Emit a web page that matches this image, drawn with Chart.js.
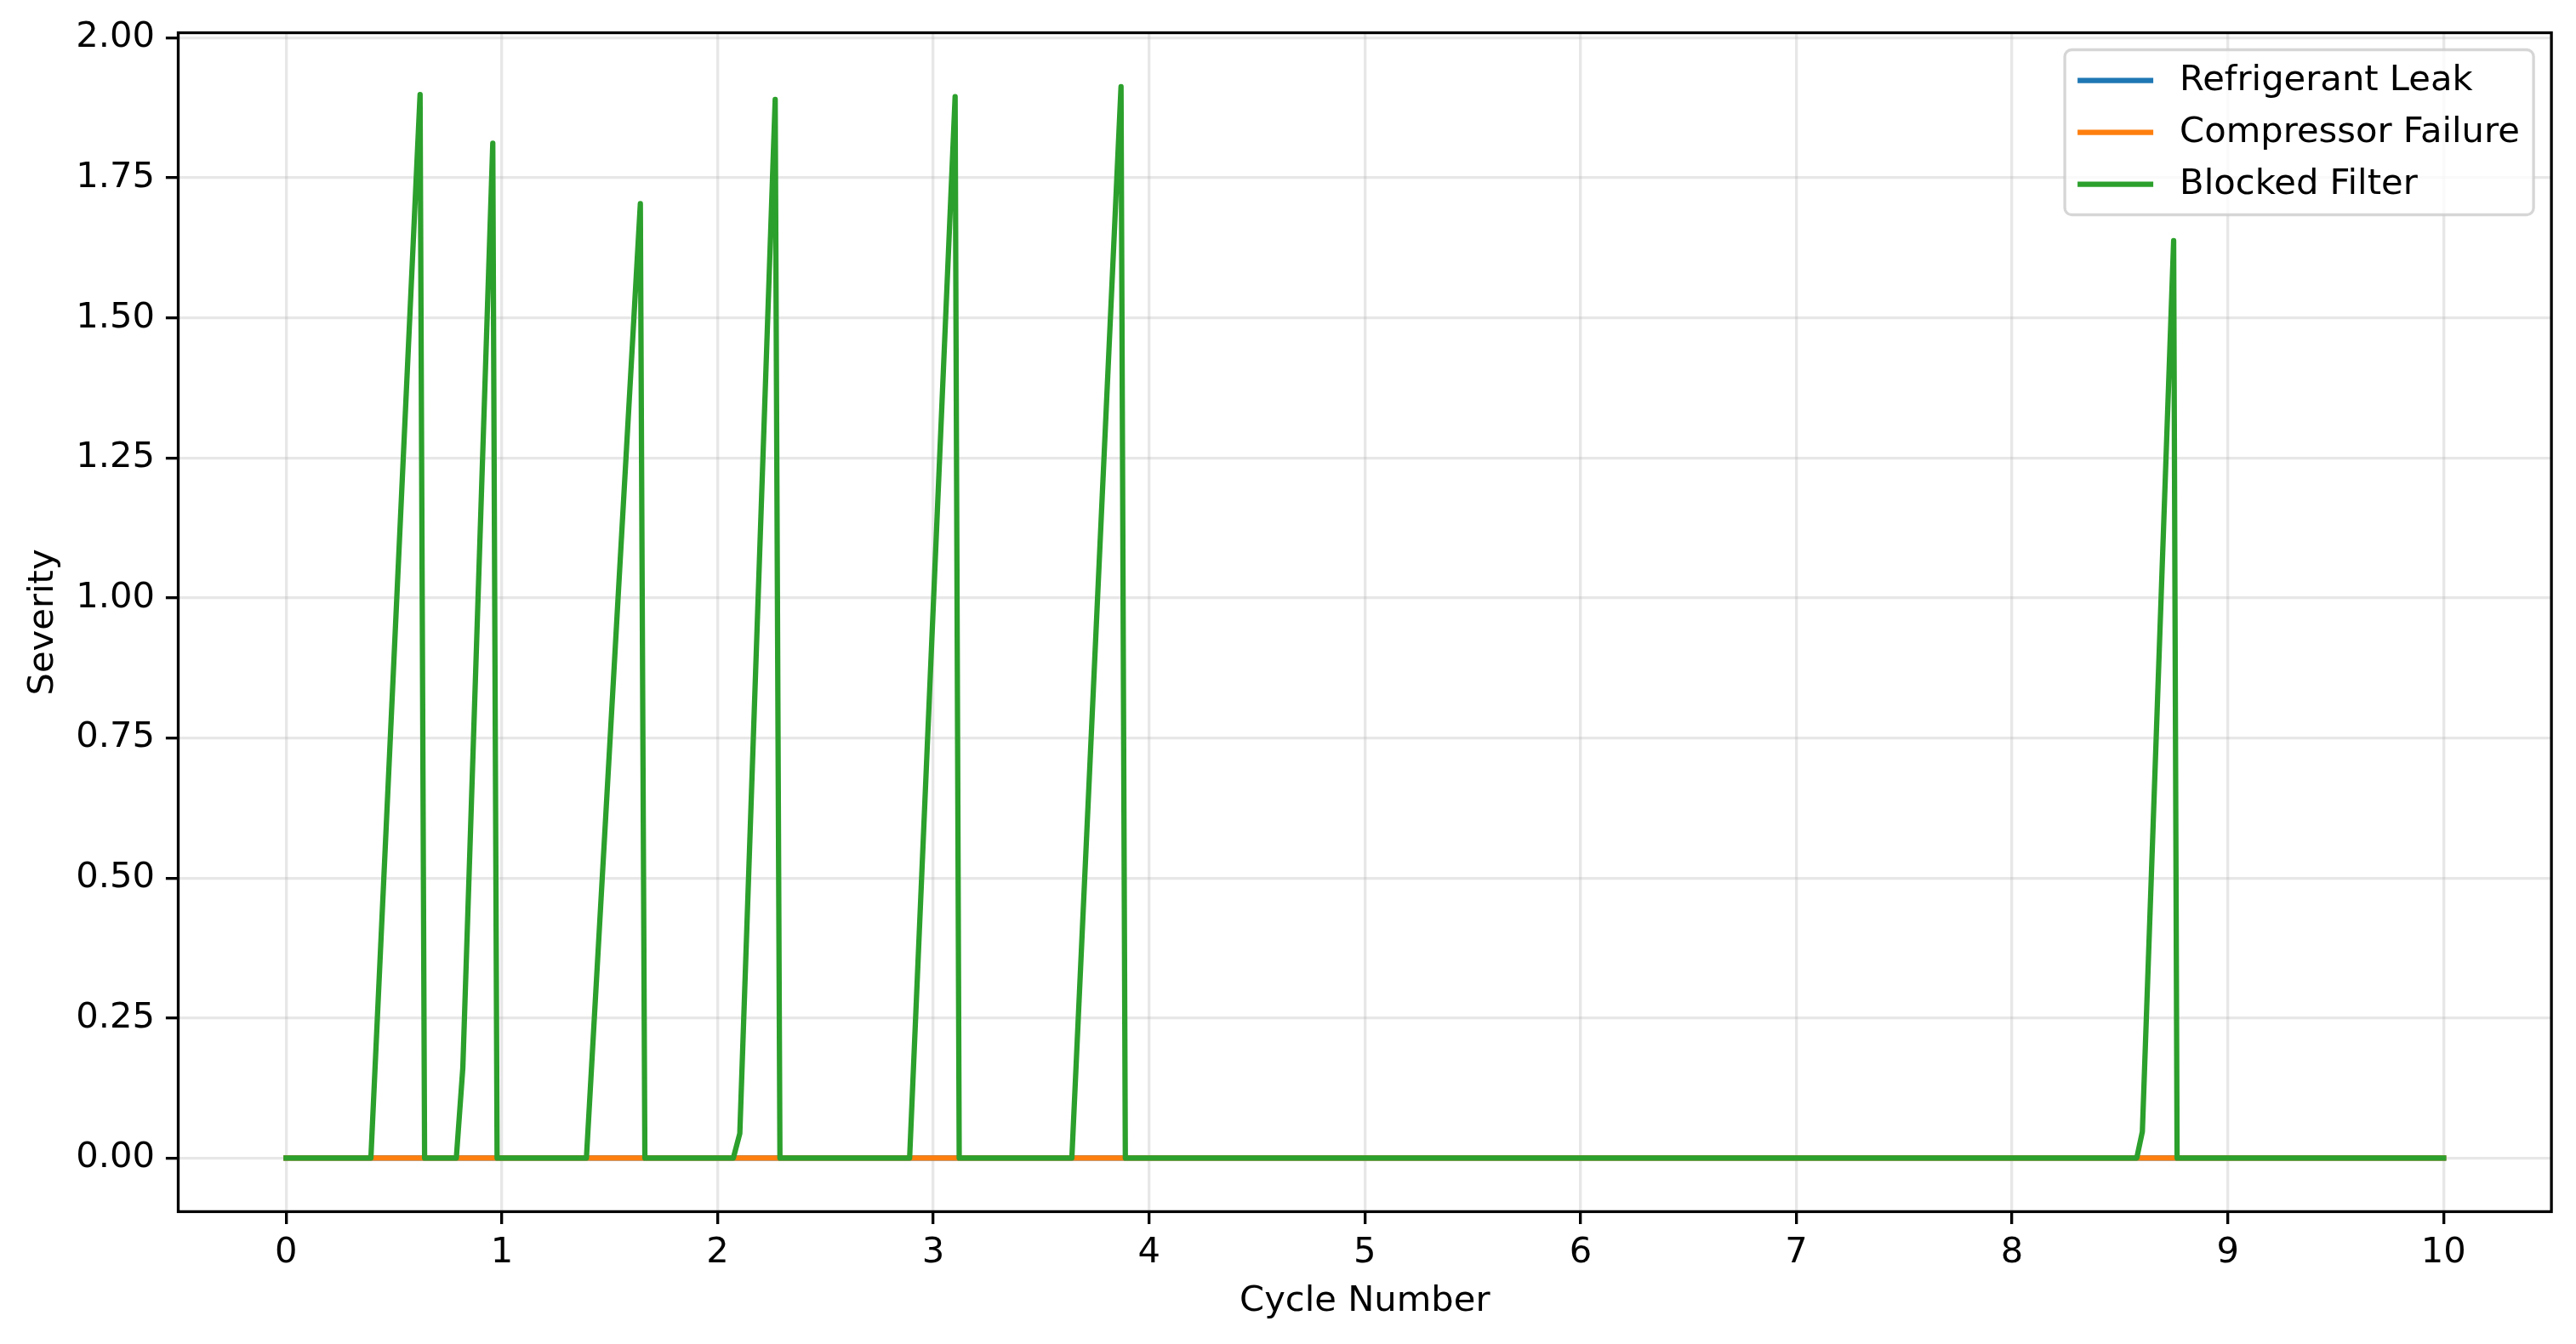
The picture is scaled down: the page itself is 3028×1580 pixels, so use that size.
<!DOCTYPE html>
<html>
<head>
<meta charset="utf-8">
<title>Fault Severity</title>
<script src="https://cdn.jsdelivr.net/npm/chart.js@4.4.1/dist/chart.umd.min.js"></script>
<style>
    html, body { margin: 0; padding: 0; background: #ffffff; overflow: hidden; }
    canvas { display: block; }
</style>
</head>
<body>
<canvas id="faultChart" width="3028" height="1580"></canvas>
<script>
    // --- data ---
    const seriesNames = ['Refrigerant Leak', 'Compressor Failure', 'Blocked Filter'];
    const seriesColors = ['#1f77b4', '#ff7f0e', '#2ca02c'];

    const leakX = [0, 10];
    const leakY = [0, 0];

    const compressorX = [0, 10];
    const compressorY = [0, 0];

    // vertices of the blocked filter trace (cycle, severity)
    const filterX = [0, 0.393, 0.621, 0.642, 0.789, 0.819, 0.958, 0.978,
        1.392, 1.642, 1.663, 2.073, 2.103, 2.267, 2.289,
        2.890, 3.101, 3.120, 3.642, 3.870, 3.890,
        8.578, 8.604, 8.749, 8.765, 10];
    const filterY = [0, 0, 1.899, 0, 0, 0.160, 1.812, 0,
        0, 1.704, 0, 0, 0.044, 1.890, 0,
        0, 1.895, 0, 0, 1.913, 0,
        0, 0.047, 1.638, 0, 0];

    const xTicks = [0, 1, 2, 3, 4, 5, 6, 7, 8, 9, 10];
    const yTicks = [0, 0.25, 0.5, 0.75, 1.0, 1.25, 1.5, 1.75, 2.0];

    const FONT = "'DejaVu Sans', sans-serif";
    const FS = 41.67;
    const LW = 6.25;      // 1.5pt at 300 dpi
    const THIN = 3.33;    // 0.8pt

    function toPoints(xs, ys) {
        return xs.map(function(x, i) { return { x: x, y: ys[i] }; });
    }

    // axes frame drawn over the lines, like matplotlib spines
    const framePlugin = {
        id: 'frame',
        afterDatasetsDraw: function(chart) {
            const a = chart.chartArea;
            const ctx = chart.ctx;
            ctx.save();
            ctx.strokeStyle = '#000000';
            ctx.lineWidth = THIN;
            ctx.strokeRect(a.left, a.top, a.right - a.left, a.bottom - a.top);
            ctx.restore();
        }
    };

    // legend inside the axes, upper right
    const innerLegend = {
        id: 'innerLegend',
        afterDraw: function(chart) {
            const a = chart.chartArea;
            const ctx = chart.ctx;
            const right = a.right - 21;
            const left = right - 551;
            const top = a.top + 20;
            const height = 194;

            ctx.save();
            ctx.beginPath();
            ctx.roundRect(left, top, right - left, height, 8);
            ctx.fillStyle = 'rgba(255,255,255,0.8)';
            ctx.fill();
            ctx.lineWidth = THIN;
            ctx.strokeStyle = 'rgba(204,204,204,0.8)';
            ctx.stroke();

            ctx.font = FS + 'px ' + FONT;
            ctx.textBaseline = 'middle';
            ctx.textAlign = 'left';
            chart.data.datasets.forEach(function(ds, i) {
                const y = top + 36 + i * 61;
                ctx.beginPath();
                ctx.moveTo(left + 15, y);
                ctx.lineTo(left + 104, y);
                ctx.strokeStyle = ds.borderColor;
                ctx.lineWidth = LW;
                ctx.lineCap = 'butt';
                ctx.stroke();
                ctx.fillStyle = '#000000';
                ctx.fillText(ds.label, left + 135, y + 1);
            });
            ctx.restore();
        }
    };

    const ctx = document.getElementById('faultChart');

    new Chart(ctx, {
        type: 'line',
        data: {
            datasets: [
                {
                    label: seriesNames[0],
                    data: toPoints(leakX, leakY),
                    borderColor: seriesColors[0],
                    order: 2
                },
                {
                    label: seriesNames[1],
                    data: toPoints(compressorX, compressorY),
                    borderColor: seriesColors[1],
                    order: 1
                },
                {
                    label: seriesNames[2],
                    data: toPoints(filterX, filterY),
                    borderColor: seriesColors[2],
                    order: 0
                }
            ]
        },
        options: {
            responsive: false,
            devicePixelRatio: 1,
            animation: false,
            events: [],
            layout: {
                padding: { top: 38.5, right: 28.9, bottom: 0, left: 0 }
            },
            elements: {
                line: {
                    borderWidth: LW,
                    tension: 0,
                    fill: false,
                    borderJoinStyle: 'round',
                    borderCapStyle: 'square'
                },
                point: { radius: 0, hoverRadius: 0 }
            },
            plugins: {
                legend: { display: false },
                tooltip: { enabled: false }
            },
            scales: {
                x: {
                    type: 'linear',
                    min: -0.5,
                    max: 10.5,
                    afterBuildTicks: function(scale) {
                        scale.ticks = xTicks.map(function(v) { return { value: v }; });
                    },
                    afterFit: function(scale) {
                        scale.height = 155.6;
                    },
                    grid: {
                        color: 'rgba(176,176,176,0.3)',
                        lineWidth: THIN,
                        drawTicks: true,
                        tickLength: 14.6,
                        tickWidth: THIN,
                        tickColor: '#000000'
                    },
                    border: { display: false },
                    ticks: {
                        autoSkip: false,
                        maxRotation: 0,
                        padding: 9,
                        color: '#000000',
                        font: { family: FONT, size: FS, lineHeight: 1.2 },
                        callback: function(value) { return String(value); }
                    },
                    title: {
                        display: true,
                        text: 'Cycle Number',
                        color: '#000000',
                        font: { family: FONT, size: FS, lineHeight: 1.2 },
                        padding: { top: 0, bottom: 25.3 }
                    }
                },
                y: {
                    type: 'linear',
                    min: -0.0957,
                    max: 2.0092,
                    afterBuildTicks: function(scale) {
                        scale.ticks = yTicks.map(function(v) { return { value: v }; });
                    },
                    afterFit: function(scale) {
                        scale.width = 209.5;
                    },
                    grid: {
                        color: 'rgba(176,176,176,0.3)',
                        lineWidth: THIN,
                        drawTicks: true,
                        tickLength: 14.6,
                        tickWidth: THIN,
                        tickColor: '#000000'
                    },
                    border: { display: false },
                    ticks: {
                        autoSkip: false,
                        padding: 13,
                        color: '#000000',
                        font: { family: FONT, size: FS, lineHeight: 1.2 },
                        callback: function(value) { return Number(value).toFixed(2); }
                    },
                    title: {
                        display: true,
                        text: 'Severity',
                        color: '#000000',
                        font: { family: FONT, size: FS, lineHeight: 1.2 },
                        padding: { top: 26.5, bottom: 0 }
                    }
                }
            }
        },
        plugins: [framePlugin, innerLegend]
    });
</script>
</body>
</html>
